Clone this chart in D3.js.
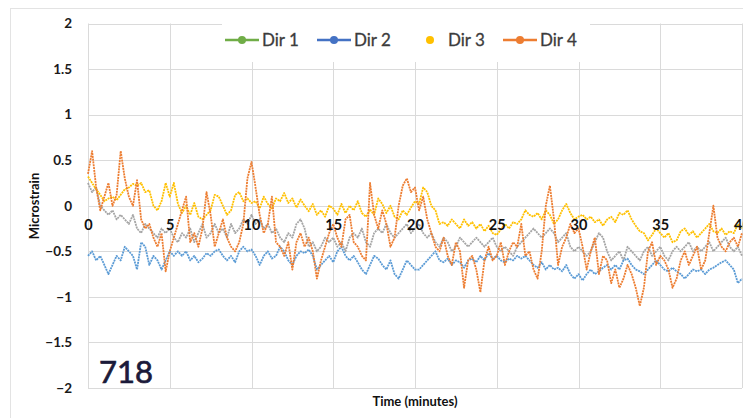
<!DOCTYPE html>
<html>
<head>
<meta charset="utf-8">
<script src="https://cdn.jsdelivr.net/npm/d3@7"></script>
<style>
  html, body { margin: 0; padding: 0; background: #fff; }
  svg { display: block; }
</style>
</head>
<body>
<svg id="chart" width="743" height="418"></svg>
<script>
// Strain readings sampled every 0.25 minutes, 0 to 40 minutes
const step = 0.25;

const dir1 = [
  0.25, 0.15, 0.2, 0.0, -0.05, -0.1, -0.05, -0.15, -0.1, -0.15, -0.2, -0.1, -0.25, -0.3, -0.2, -0.25, -0.3, -0.35, -0.25, -0.3,
  -0.25, -0.35, -0.4, -0.3, -0.35, -0.25, -0.4, -0.3, -0.2, -0.35, -0.3, -0.2, -0.3, -0.25, -0.35, -0.2, -0.3, -0.25, -0.15, -0.2,
  -0.1, -0.2, -0.15, -0.25, -0.2, -0.3, -0.25, -0.35, -0.4, -0.3, -0.35, -0.2, -0.15, -0.25, -0.45, -0.4, -0.5, -0.45, -0.35, -0.4,
  -0.35, -0.45, -0.4, -0.5, -0.35, -0.3, -0.35, -0.25, -0.4, -0.45, -0.3, -0.25, -0.3, -0.2, -0.3, -0.35, -0.3, -0.25, -0.2, -0.3,
  -0.25, -0.2, -0.3, -0.35, -0.3, -0.4, -0.45, -0.35, -0.4, -0.5, -0.45, -0.35, -0.4, -0.45, -0.4, -0.35, -0.4, -0.45, -0.4, -0.35,
  -0.45, -0.5, -0.45, -0.5, -0.55, -0.45, -0.4, -0.35, -0.3, -0.25, -0.3, -0.35, -0.3, -0.25, -0.3, -0.4, -0.35, -0.3, -0.45, -0.5,
  -0.45, -0.5, -0.55, -0.5, -0.4, -0.3, -0.35, -0.5, -0.6, -0.55, -0.5, -0.6, -0.45, -0.5, -0.55, -0.6, -0.5, -0.45, -0.55, -0.5,
  -0.45, -0.55, -0.6, -0.5, -0.45, -0.5, -0.45, -0.4, -0.5, -0.45, -0.5, -0.45, -0.4, -0.5, -0.45, -0.4, -0.35, -0.45, -0.5, -0.45,
  -0.55
];

const dir2 = [
  -0.55, -0.5, -0.6, -0.55, -0.65, -0.75, -0.65, -0.55, -0.6, -0.45, -0.5, -0.55, -0.7, -0.4, -0.45, -0.65, -0.55, -0.6, -0.7, -0.6,
  -0.5, -0.55, -0.5, -0.55, -0.5, -0.6, -0.55, -0.62, -0.58, -0.52, -0.55, -0.5, -0.48, -0.55, -0.6, -0.55, -0.62, -0.5, -0.45, -0.5,
  -0.48, -0.55, -0.65, -0.55, -0.5, -0.58, -0.55, -0.45, -0.5, -0.6, -0.65, -0.55, -0.5, -0.52, -0.48, -0.55, -0.7, -0.65, -0.6, -0.55,
  -0.62, -0.5, -0.45, -0.55, -0.6, -0.55, -0.62, -0.7, -0.75, -0.65, -0.55, -0.58, -0.65, -0.7, -0.6, -0.75, -0.8, -0.7, -0.6, -0.65,
  -0.7, -0.7, -0.65, -0.6, -0.55, -0.5, -0.6, -0.62, -0.58, -0.65, -0.6, -0.62, -0.68, -0.6, -0.58, -0.62, -0.55, -0.6, -0.52, -0.58,
  -0.55, -0.6, -0.62, -0.58, -0.6, -0.55, -0.58, -0.55, -0.6, -0.65, -0.68, -0.62, -0.7, -0.65, -0.7, -0.68, -0.72, -0.65, -0.75, -0.8,
  -0.75, -0.82, -0.75, -0.7, -0.75, -0.72, -0.68, -0.65, -0.7, -0.65, -0.7, -0.6, -0.58, -0.65, -0.7, -0.72, -0.75, -0.7, -0.65, -0.6,
  -0.65, -0.7, -0.72, -0.68, -0.72, -0.75, -0.8, -0.75, -0.7, -0.72, -0.7, -0.75, -0.7, -0.68, -0.65, -0.62, -0.6, -0.65, -0.7, -0.85,
  -0.8
];

const dir3 = [
  0.32, 0.25, 0.18, 0.12, 0.05, 0.08, 0.1, 0.06, 0.12, 0.18, 0.2, 0.24, 0.22, 0.25, 0.15, 0.17, 0.0, -0.05, 0.05, 0.25,
  0.1, 0.25, 0.02, -0.08, 0.0, -0.1, 0.03, -0.12, -0.15, -0.1, -0.05, 0.12, 0.1, 0.0, -0.1, -0.05, 0.12, 0.15, 0.05, 0.08,
  0.03, 0.05, -0.03, 0.1, 0.02, -0.03, 0.08, 0.05, 0.14, 0.03, 0.08, -0.02, 0.07, 0.0, -0.06, 0.02, -0.1, -0.05, -0.12, 0.0,
  -0.03, -0.1, 0.02, -0.08, 0.0, -0.05, 0.05, -0.08, -0.12, -0.04, -0.1, 0.08, 0.02, -0.08, 0.0, -0.12, -0.15, -0.05, -0.1, -0.02,
  0.05, 0.02, 0.2, 0.15, 0.0, -0.05, -0.2, -0.18, -0.22, -0.15, -0.2, -0.25, -0.15, -0.22, -0.18, -0.25, -0.2, -0.28, -0.22, -0.3,
  -0.32, -0.26, -0.2, -0.25, -0.18, -0.2, -0.15, -0.05, -0.1, -0.12, -0.08, -0.15, -0.05, -0.1, -0.2, -0.15, -0.05, 0.02, -0.08, -0.15,
  -0.12, -0.1, -0.15, -0.12, -0.18, -0.15, -0.22, -0.15, -0.12, -0.18, -0.08, -0.1, -0.05, -0.15, -0.22, -0.28, -0.3, -0.38, -0.32, -0.25,
  -0.3, -0.35, -0.3, -0.4, -0.38, -0.28, -0.25, -0.32, -0.28, -0.35, -0.3, -0.25, -0.2, -0.28, -0.3, -0.25, -0.32, -0.28, -0.3, -0.2,
  -0.25
];

const dir4 = [
  0.35, 0.6, 0.2, -0.05, 0.1, 0.25, 0.0, 0.12, 0.6, 0.3, 0.1, 0.0, 0.28, -0.15, -0.25, -0.2, -0.35, -0.45, -0.3, -0.72,
  -0.5, -0.35, -0.2, -0.05, 0.1, -0.4, -0.3, -0.45, -0.25, 0.15, -0.1, -0.45, -0.3, -0.15, -0.35, -0.45, -0.5, -0.4, -0.2, 0.3,
  0.48, 0.2, -0.1, -0.3, -0.2, 0.1, -0.4, -0.45, -0.55, -0.4, -0.7, -0.4, -0.3, -0.45, -0.35, -0.5, -0.8, -0.6, -0.45, -0.3,
  -0.2, -0.35, -0.45, -0.15, -0.1, -0.4, -0.45, -0.55, -0.6, 0.25, -0.1, -0.25, -0.05, -0.2, -0.45, -0.35, 0.0, 0.22, 0.3, 0.15,
  0.2, -0.05, 0.1, -0.15, -0.3, -0.45, -0.5, -0.35, -0.55, -0.65, -0.4, -0.5, -0.9, -0.6, -0.55, -0.7, -0.95, -0.6, -0.45, -0.6,
  -0.55, -0.4, -0.65, -0.5, -0.4, -0.45, -0.2, -0.55, -0.5, -0.7, -0.8, -0.5, 0.0, 0.22, -0.15, -0.65, -0.45, -0.35, -0.2, -0.3,
  -0.25, -0.45, -0.7, -0.5, -0.35, -0.75, -0.55, -0.6, -0.85, -0.7, -0.9, -0.8, -0.65, -0.75, -0.9, -1.1, -0.9, -0.5, -0.4, -0.65,
  -0.55, -0.6, -0.7, -0.9, -0.8, -0.6, -0.5, -0.65, -0.55, -0.45, -0.7, -0.6, -0.3, 0.0, -0.35, -0.45, -0.5, -0.4, -0.35, -0.45,
  -0.3
];

const seriesNames = ["Dir 1", "Dir 2", "Dir 3", "Dir 4"];
const lineColors = ["#a5a5a5", "#5b9bd5", "#ffc000", "#ed7d31"];
const legendColors = ["#70ad47", "#4472c4", "#ffc000", "#ed7d31"];
const xTicks = [0, 5, 10, 15, 20, 25, 30, 35, 40];
const yTicks = [-2, -1.5, -1, -0.5, 0, 0.5, 1, 1.5, 2];

const svg = d3.select("#chart");
const font = "Lato, 'Open Sans', sans-serif";

// outer chart frame
svg.append("rect")
  .attr("x", 10.5).attr("y", 8.5)
  .attr("width", 760).attr("height", 440)
  .attr("fill", "#fff").attr("stroke", "#e3e3e3");

const x = d3.scaleLinear().domain([0, 40]).range([88, 742]);
const y = d3.scaleLinear().domain([-2, 2]).range([388, 23.5]);

// gridlines
const grid = svg.append("g").attr("stroke", "#dadada").attr("stroke-width", 1);
grid.selectAll("line.h").data(yTicks).join("line")
  .attr("x1", x(0)).attr("x2", x(40))
  .attr("y1", d => Math.round(y(d)) + 0.5).attr("y2", d => Math.round(y(d)) + 0.5);
grid.selectAll("line.v").data(xTicks).join("line")
  .attr("x1", d => Math.round(x(d)) + 0.5).attr("x2", d => Math.round(x(d)) + 0.5)
  .attr("y1", y(2)).attr("y2", y(-2));

// data lines, drawn as fine dotted traces
const all = [dir1, dir2, dir3, dir4];
const line = d3.line().x((d, i) => x(i * step)).y(d => y(d));
svg.append("g").selectAll("path").data(all).join("path")
  .attr("d", d => line(d))
  .attr("fill", "none")
  .attr("stroke", (d, i) => lineColors[i])
  .attr("stroke-width", 1.8)
  .attr("stroke-dasharray", "2,0.8")
  .attr("stroke-linejoin", "round");

// y axis labels
const yAxis = svg.append("g")
  .attr("transform", `translate(${x(0)},0)`)
  .call(d3.axisLeft(y).tickValues(yTicks).tickSize(0).tickPadding(16).tickFormat(d3.format("")));
yAxis.select(".domain").remove();
yAxis.selectAll("text")
  .attr("font-family", font).attr("font-size", 13.5).attr("font-weight", "bold").attr("fill", "#1a1a1a");

// x axis labels sit at the zero line
const xAxis = svg.append("g")
  .attr("transform", `translate(0,${y(0)})`)
  .call(d3.axisBottom(x).tickValues(xTicks).tickSize(0).tickPadding(14).tickFormat(d3.format("")));
xAxis.select(".domain").remove();
xAxis.selectAll("text")
  .attr("font-family", font).attr("font-size", 14.5).attr("font-weight", "bold").attr("fill", "#111");

// axis titles
svg.append("text")
  .attr("transform", `translate(39,206) rotate(-90)`)
  .attr("text-anchor", "middle")
  .attr("font-family", font).attr("font-size", 13).attr("font-weight", "bold").attr("fill", "#111")
  .text("Microstrain");
svg.append("text")
  .attr("x", 415).attr("y", 406)
  .attr("text-anchor", "middle")
  .attr("font-family", font).attr("font-size", 13).attr("font-weight", "bold").attr("fill", "#111")
  .text("Time (minutes)");

// legend
const legend = svg.append("g");
legend.append("rect").attr("x", 222).attr("y", 16).attr("width", 368).attr("height", 46).attr("fill", "#fff");
const legendX = [225, 317, 413, 503];
const item = legend.selectAll("g.item").data(seriesNames).join("g")
  .attr("transform", (d, i) => `translate(${legendX[i]},40)`);
item.filter((d, i) => i !== 2).append("line")
  .attr("x1", 0).attr("x2", 34).attr("y1", 0).attr("y2", 0)
  .attr("stroke", d => legendColors[seriesNames.indexOf(d)]).attr("stroke-width", 2.5);
item.append("circle")
  .attr("cx", 17).attr("cy", 0).attr("r", 4)
  .attr("fill", d => legendColors[seriesNames.indexOf(d)]);
item.append("text")
  .attr("x", (d, i) => i === 2 ? 35 : 37).attr("y", 6)
  .attr("font-family", font).attr("font-size", 17).attr("fill", "#3c3c3c")
  .attr("stroke", "#3c3c3c").attr("stroke-width", 0.3)
  .text(d => d);

// figure number
svg.append("text")
  .attr("x", 99).attr("y", 383)
  .attr("font-family", font).attr("font-size", 31).attr("fill", "#1b1a3a")
  .attr("stroke", "#1b1a3a").attr("stroke-width", 0.7)
  .text("718");
</script>
</body>
</html>
